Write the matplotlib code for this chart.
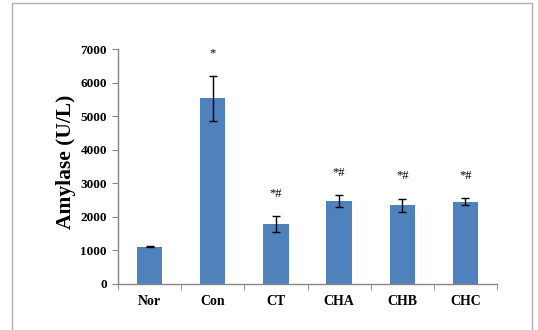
import matplotlib
matplotlib.use("Agg")
import matplotlib.pyplot as plt
from matplotlib.patches import Rectangle

categories = ["Nor", "Con", "CT", "CHA", "CHB", "CHC"]
means = [1110, 5530, 1780, 2470, 2350, 2450]
errors = [20, 670, 240, 170, 195, 100]
marks = ["", "*", "*#", "*#", "*#", "*#"]
yticks = [0, 1000, 2000, 3000, 4000, 5000, 6000, 7000]

serif = ["Liberation Serif", "DejaVu Serif"]

fig = plt.figure(figsize=(5.38, 3.30), dpi=100)
fig.add_artist(Rectangle((11.5 / 538, -0.02), (532 - 11.5) / 538, 1.02 - 2.5 / 330,
                         transform=fig.transFigure, fill=False,
                         edgecolor="#b0b0b0", linewidth=1.0))
ax = fig.add_axes([118 / 538, 46 / 330, (497 - 118) / 538, (284 - 49) / 330])

x = list(range(len(categories)))
ax.bar(x, means, width=0.4, color="#4F81BD", zorder=2)
ax.errorbar(x, means, yerr=errors, fmt="none", ecolor="black",
            elinewidth=1.0, capsize=3, capthick=1.0, zorder=3)
for xi, m, e, t in zip(x, means, errors, marks):
    if t:
        ax.annotate(t, (xi, m + e), xytext=(0, 12), textcoords="offset points",
                    ha="center", va="bottom", fontsize=9, family=serif)

ax.set_xlim(-0.5, len(categories) - 0.5)
ax.set_ylim(0, 7000)
ax.set_yticks(yticks)
ax.set_yticklabels([str(v) for v in yticks], fontsize=9.5, fontweight="bold", family=serif)
ax.set_xticks(x)
ax.set_xticklabels(categories, fontsize=10, fontweight="bold", family=serif)
ax.tick_params(axis="x", length=0, pad=8)
ax.set_xticks([i + 0.5 for i in range(-1, len(categories))], minor=True)
ax.tick_params(axis="x", which="minor", length=4, color="#868686", direction="out")
ax.tick_params(axis="y", length=4, color="#868686", direction="out", pad=4)

for s in ["top", "right"]:
    ax.spines[s].set_visible(False)
for s in ["left", "bottom"]:
    ax.spines[s].set_color("#868686")
    ax.spines[s].set_linewidth(1.0)

ax.set_ylabel("Amylase (U/L)", fontsize=15.5, fontweight="bold", family=serif,
              va="center", ha="center")
ax.yaxis.set_label_coords(-0.137, 0.521)

fig.savefig("out.png", dpi=100)
